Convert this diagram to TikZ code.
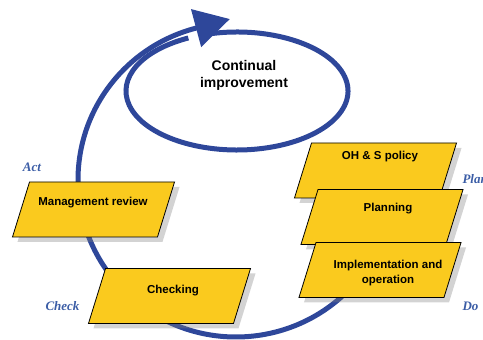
\documentclass[tikz,border=0pt]{standalone}
\usepackage{fontspec}
\setsansfont{Liberation Sans}
\newfontfamily\pdcafont{Liberation Serif}
\usetikzlibrary{arrows.meta,
	shadows}
\definecolor{cycleblue}{HTML}{2E479A}
\definecolor{boxyellow}{HTML}{FACA1E}
\definecolor{labelblue}{HTML}{3B5DA6}

\begin{document}
\begin{tikzpicture}[x=1pt,y=1pt]
        \tikzstyle{stage}=[rectangle,xslant=0.31,transform shape,draw=black,line width=0.8pt,fill=boxyellow,minimum width=145pt,minimum height=55pt,inner sep=0pt,drop shadow={shadow xshift=5pt,shadow yshift=-5pt,opacity=0.35}]
        \tikzstyle{stagetext}=[font=\sffamily\bfseries\fontsize{11.5}{15}\selectfont,align=center]
        \tikzstyle{pdca}=[font=\pdcafont\bfseries\itshape\fontsize{13}{15}\selectfont,text=labelblue]
        \tikzstyle{loopline}=[draw=cycleblue,line width=5pt]
        \useasboundingbox (0,0) rectangle (483,340);
        \coordinate (inner_c) at (237,249);
        \coordinate (outer_c) at (236,160);
        \draw[loopline] (inner_c) ++(104:111pt and 59pt) arc[start angle=104,end angle=-244,x radius=111pt,y radius=59pt];
        \draw[loopline,-{Triangle[length=35pt,width=38pt]}] (outer_c) ++(-40:158pt and 157pt) arc[start angle=-40,end angle=-255,x radius=158pt,y radius=157pt] -- ++(15:36pt);
        \node[font=\sffamily\bfseries\fontsize{14}{17.7}\selectfont,align=center] (ci) at (244,264.5) {Continual\\improvement};
        \node[stage] (review) at (93.5,130.5) {};
        \node[stage] (checking) at (169.5,44) {};
        \node[stage] (policy) at (375.5,169.5) {};
        \node[stage] (planning) at (382,123) {};
        \node[stage] (implement) at (380,70) {};
        \node[stagetext] (review_t) at (93,137) {Management review};
        \node[stagetext] (checking_t) at (173,49) {Checking};
        \node[stagetext] (policy_t) at (380,183) {OH \& S policy};
        \node[stagetext] (planning_t) at (388,131) {Planning};
        \node[stagetext] (implement_t) at (388,66.5) {Implementation and\\operation};
        \node[pdca] (act) at (32,173) {Act};
        \node[pdca,anchor=east] (check) at (83,34) {Check};
        \node[pdca,anchor=west] (plan) at (459,161) {Plan};
        \node[pdca,anchor=west] (do) at (459,34) {Do};
      \end{tikzpicture}
\end{document}
